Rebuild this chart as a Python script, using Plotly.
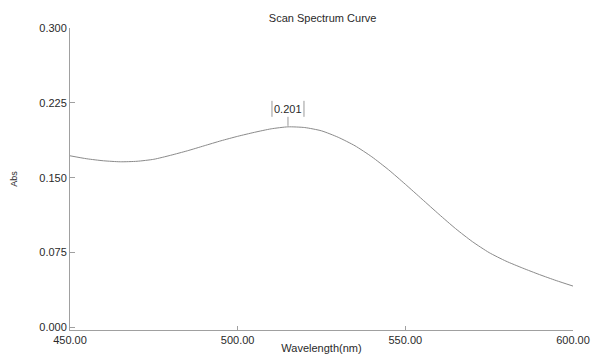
import plotly.graph_objects as go

# Absorbance scan, 450-600 nm in 5 nm steps
wavelength_nm = [450, 455, 460, 465, 470, 475, 480, 485, 490, 495,
                 500, 505, 510, 515, 520, 525, 530, 535, 540, 545,
                 550, 555, 560, 565, 570, 575, 580, 585, 590, 595, 600]
absorbance = [0.172, 0.169, 0.167, 0.166, 0.1665, 0.1685, 0.1725, 0.177, 0.182, 0.187,
              0.1915, 0.1955, 0.1990, 0.201, 0.2003, 0.197, 0.1905, 0.182, 0.171, 0.158,
              0.1435, 0.1285, 0.1135, 0.099, 0.086, 0.075, 0.0665, 0.0595, 0.053, 0.047, 0.0415]

x_ticks = [450, 500, 550, 600]
x_tick_labels = ["450.00", "500.00", "550.00", "600.00"]
y_ticks = [0.0, 0.075, 0.150, 0.225, 0.300]
y_tick_labels = ["0.000", "0.075", "0.150", "0.225", "0.300"]

peak_i = max(range(len(absorbance)), key=lambda i: absorbance[i])
peak_x = wavelength_nm[peak_i]
peak_y = absorbance[peak_i]

FONT = "Liberation Sans, Arial, sans-serif"
TXT = "#2a2a2a"
AX = "#a0a0a0"

fig = go.Figure()
fig.add_trace(go.Scatter(
    x=wavelength_nm, y=absorbance, mode="lines",
    line=dict(color="#8a8a8a", width=1, shape="spline", smoothing=0.6),
    hoverinfo="skip", showlegend=False,
))

# peak marker: value label between two thin bars with a short leader line
fig.add_annotation(
    x=peak_x, y=peak_y, xref="x", yref="y",
    text=f"{peak_y:.3f}", showarrow=False, yshift=18,
    font=dict(family=FONT, size=11, color=TXT),
)
bar_line = dict(color="#9a9a9a", width=1)
for dx in (-16, 16):
    fig.add_shape(type="line", xref="x", yref="y", xsizemode="pixel", ysizemode="pixel",
                  xanchor=peak_x, yanchor=peak_y, x0=dx, x1=dx, y0=10, y1=26, line=bar_line)
fig.add_shape(type="line", xref="x", yref="y", xsizemode="pixel", ysizemode="pixel",
              xanchor=peak_x, yanchor=peak_y, x0=0, x1=0, y0=1, y1=10, line=bar_line)

fig.update_layout(
    width=592, height=354,
    margin=dict(l=70, r=19, t=28, b=24),
    paper_bgcolor="white", plot_bgcolor="white",
    font=dict(family=FONT, size=11, color=TXT),
    title=dict(text="Scan Spectrum Curve", x=0.545, xanchor="center",
               y=1 - 18 / 354, yanchor="middle",
               font=dict(family=FONT, size=11, color=TXT)),
    xaxis=dict(
        range=[450, 600], tickvals=x_ticks, ticktext=x_tick_labels,
        showgrid=False, zeroline=False, showline=True, linecolor=AX, linewidth=1,
        ticks="inside", ticklen=4, tickcolor=AX, tickfont=dict(size=11, color=TXT),
        title=dict(text="Wavelength(nm)", standoff=2, font=dict(size=11, color=TXT)),
        automargin=False,
    ),
    yaxis=dict(
        range=[-0.0025, 0.3], tickvals=y_ticks, ticktext=y_tick_labels,
        showgrid=False, zeroline=False, showline=True, linecolor=AX, linewidth=1,
        ticks="inside", ticklen=5, tickcolor=AX, tickfont=dict(size=11, color=TXT),
        title=dict(text="Abs", standoff=20, font=dict(size=9, color=TXT)),
        automargin=False,
    ),
)

fig.write_html("out.html")
